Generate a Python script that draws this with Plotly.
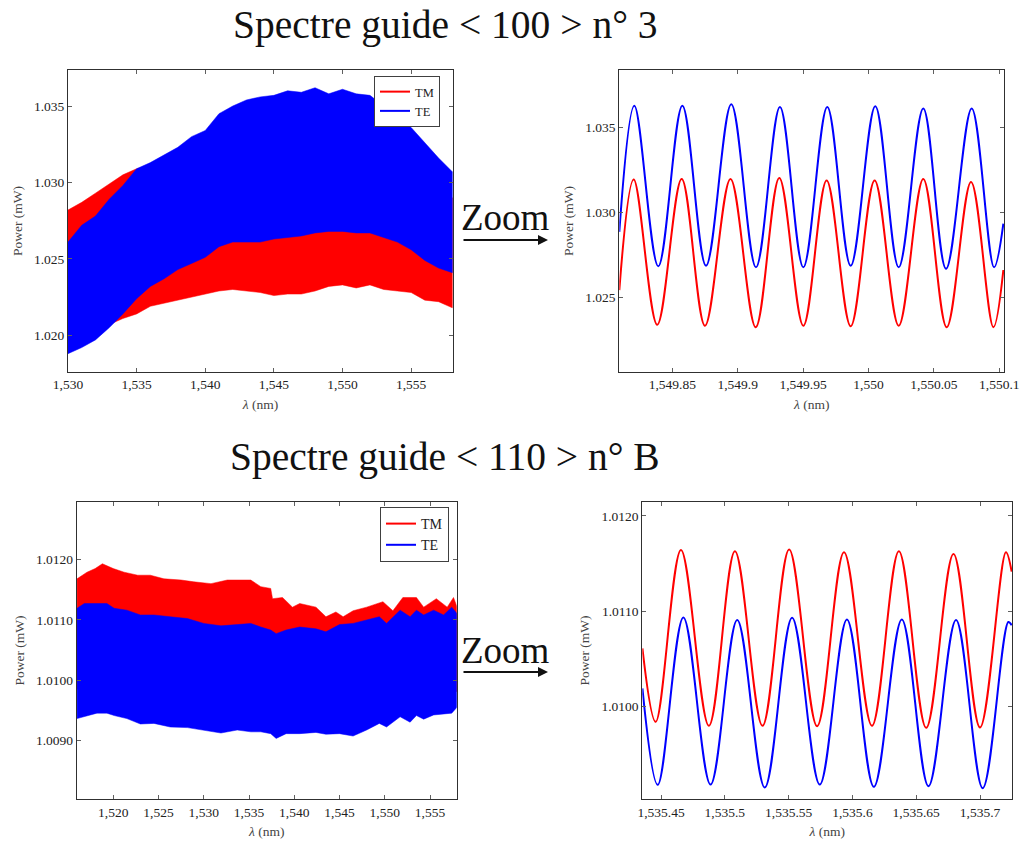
import numpy as np
import plotly.graph_objects as go

# ---------------- Panel 1 : guide <100> n°3, full spectrum (envelopes of dense fringes)
wl1 = [1530, 1531, 1532, 1533, 1534, 1535, 1536, 1537, 1538, 1539, 1540, 1541, 1542, 1543, 1544,
       1545, 1546, 1547, 1548, 1549, 1550, 1551, 1552, 1553, 1554, 1555, 1556, 1557, 1558]
te1_up = [1.0261, 1.0272, 1.0278, 1.0289, 1.0298, 1.0309, 1.0313, 1.0318, 1.0323, 1.0330, 1.0334,
          1.0345, 1.0350, 1.0354, 1.0356, 1.0357, 1.0360, 1.0359, 1.0362, 1.0358, 1.0361, 1.0358,
          1.0357, 1.0350, 1.0344, 1.0336, 1.0326, 1.0316, 1.0307]
te1_lo = [1.0188, 1.0192, 1.0197, 1.0205, 1.0214, 1.0224, 1.0232, 1.0237, 1.0243, 1.0247, 1.0251,
          1.0258, 1.0261, 1.0261, 1.0261, 1.0263, 1.0264, 1.0265, 1.0267, 1.0268, 1.0268, 1.0267,
          1.0267, 1.0264, 1.0261, 1.0256, 1.0249, 1.0244, 1.0241]
tm1_up = [1.0282, 1.0287, 1.0293, 1.0299, 1.0305, 1.0309, 1.0311, 1.0312, 1.0313, 1.0314, 1.0315,
          1.0316, 1.0317, 1.0318, 1.0318, 1.0319, 1.0319, 1.0320, 1.0320, 1.0320, 1.0320, 1.0319,
          1.0318, 1.0316, 1.0313, 1.0308, 1.0302, 1.0296, 1.0290]
tm1_lo = [1.0200, 1.0203, 1.0205, 1.0207, 1.0211, 1.0214, 1.0219, 1.0221, 1.0223, 1.0225, 1.0227,
          1.0229, 1.0230, 1.0229, 1.0228, 1.0226, 1.0227, 1.0227, 1.0229, 1.0232, 1.0233, 1.0231,
          1.0233, 1.0230, 1.0229, 1.0228, 1.0223, 1.0222, 1.0218]

# ---------------- Panel 2 : zoom of guide <100> n°3 (extrema of the fringes)
wl2_te = [1549.8095, 1549.8210, 1549.8393, 1549.8577, 1549.8758, 1549.8951, 1549.9140, 1549.9323,
          1549.9502, 1549.9685, 1549.9864, 1550.0052, 1550.0231, 1550.0419, 1550.0593, 1550.0789,
          1550.0960, 1550.1031]
te2 = [1.02886, 1.03630, 1.02683, 1.03630, 1.02686, 1.03638, 1.02677, 1.03622, 1.02677, 1.03622,
       1.02686, 1.03627, 1.02677, 1.03613, 1.02668, 1.03613, 1.02677, 1.02935]
wl2_tm = [1549.8095, 1549.8205, 1549.8385, 1549.8572, 1549.8750, 1549.8945, 1549.9138, 1549.9318,
          1549.9502, 1549.9680, 1549.9864, 1550.0047, 1550.0231, 1550.0419, 1550.0598, 1550.0784,
          1550.0955, 1550.1031]
tm2 = [1.02543, 1.03195, 1.02339, 1.03198, 1.02333, 1.03198, 1.02324, 1.03204, 1.02333, 1.03189,
       1.02330, 1.03189, 1.02333, 1.03198, 1.02324, 1.03180, 1.02324, 1.02661]

# ---------------- Panel 3 : guide <110> n°B, full spectrum
wl3_tm = [1516.0, 1517.1, 1518.0, 1518.8, 1520.0, 1521.2, 1522.7, 1524.1, 1525.6, 1527.5, 1528.9,
          1530.8, 1532.6, 1533.7, 1535.2, 1536.3, 1537.4, 1537.6, 1538.7, 1539.8, 1540.6, 1542.4,
          1543.5, 1544.6, 1545.4, 1546.5, 1548.0, 1549.8, 1550.9, 1552.0, 1553.5, 1554.3, 1555.7,
          1556.9, 1557.6, 1558.0]
tm3_up = [1.01168, 1.01179, 1.01185, 1.01193, 1.01185, 1.01179, 1.01174, 1.01174, 1.01168, 1.01166,
          1.01163, 1.01160, 1.01166, 1.01166, 1.01166, 1.01155, 1.01152, 1.01135, 1.01137, 1.01121,
          1.01127, 1.01121, 1.01105, 1.01113, 1.01105, 1.01115, 1.01121, 1.01130, 1.01115, 1.01137,
          1.01137, 1.01121, 1.01135, 1.01121, 1.01137, 1.01121]
tm3_lo = [1.00985, 1.00985, 1.00984, 1.00984, 1.00983, 1.00983, 1.00982, 1.00982, 1.00981, 1.00981,
          1.00980, 1.00980, 1.00980, 1.00980, 1.00979, 1.00979, 1.00978, 1.00978, 1.00978, 1.00978,
          1.00978, 1.00978, 1.00978, 1.00978, 1.00978, 1.00978, 1.00979, 1.00979, 1.00979, 1.00980,
          1.00980, 1.00980, 1.00981, 1.00981, 1.00981, 1.00981]
wl3_te = [1516.0, 1516.8, 1518.2, 1519.3, 1520.1, 1521.5, 1523.0, 1524.5, 1526.3, 1528.2, 1530.0,
          1531.9, 1533.7, 1535.2, 1536.3, 1537.4, 1538.0, 1539.1, 1540.6, 1542.4, 1543.5, 1545.0,
          1546.5, 1548.0, 1549.4, 1550.2, 1551.7, 1552.8, 1553.5, 1554.3, 1555.4, 1556.5, 1557.4,
          1558.0]
te3_up = [1.01119, 1.01127, 1.01127, 1.01127, 1.01119, 1.01116, 1.01108, 1.01108, 1.01105, 1.01102,
          1.01094, 1.01090, 1.01092, 1.01094, 1.01088, 1.01083, 1.01077, 1.01083, 1.01088, 1.01085,
          1.01080, 1.01092, 1.01094, 1.01100, 1.01105, 1.01094, 1.01116, 1.01105, 1.01116, 1.01108,
          1.01116, 1.01108, 1.01121, 1.01110]
te3_lo = [1.00936, 1.00940, 1.00945, 1.00945, 1.00941, 1.00936, 1.00927, 1.00928, 1.00922, 1.00921,
          1.00917, 1.00912, 1.00917, 1.00914, 1.00914, 1.00911, 1.00903, 1.00911, 1.00911, 1.00913,
          1.00910, 1.00911, 1.00907, 1.00917, 1.00928, 1.00922, 1.00939, 1.00930, 1.00941, 1.00935,
          1.00942, 1.00944, 1.00945, 1.00955]

# ---------------- Panel 4 : zoom of guide <110> n°B
wl4_tm = [1535.4354, 1535.4458, 1535.4656, 1535.4875, 1535.5079, 1535.5295, 1535.5504, 1535.5723,
          1535.5934, 1535.6153, 1535.6364, 1535.6578, 1535.6792, 1535.7000, 1535.7203, 1535.7248]
tm4 = [1.010607, 1.009835, 1.011642, 1.009793, 1.011628, 1.009793, 1.011646, 1.009789,
       1.011618, 1.009793, 1.011628, 1.009772, 1.011600, 1.009775, 1.011618, 1.011414]
wl4_te = [1535.4354, 1535.4474, 1535.4675, 1535.4888, 1535.5097, 1535.5313, 1535.5527, 1535.5744,
          1535.5957, 1535.6168, 1535.6387, 1535.6596, 1535.6812, 1535.7021, 1535.7222, 1535.7248]
te4 = [1.010186, 1.009172, 1.010933, 1.009175, 1.010905, 1.009144, 1.010930, 1.009175,
       1.010912, 1.009151, 1.010912, 1.009158, 1.010905, 1.009137, 1.010884, 1.010850]

# ---------------- tick labels
x1_ticks = [1530, 1535, 1540, 1545, 1550, 1555]
x1_text = ["1,530", "1,535", "1,540", "1,545", "1,550", "1,555"]
y1_ticks = [1.020, 1.025, 1.030, 1.035]
y1_text = ["1.020", "1.025", "1.030", "1.035"]
x2_ticks = [1549.85, 1549.90, 1549.95, 1550.00, 1550.05, 1550.10]
x2_text = ["1,549.85", "1,549.9", "1,549.95", "1,550", "1,550.05", "1,550.1"]
y2_ticks = [1.025, 1.030, 1.035]
y2_text = ["1.025", "1.030", "1.035"]
x3_ticks = [1520, 1525, 1530, 1535, 1540, 1545, 1550, 1555]
x3_text = ["1,520", "1,525", "1,530", "1,535", "1,540", "1,545", "1,550", "1,555"]
y3_ticks = [1.0090, 1.0100, 1.0110, 1.0120]
y3_text = ["1.0090", "1.0100", "1.0110", "1.0120"]
x4_ticks = [1535.45, 1535.50, 1535.55, 1535.60, 1535.65, 1535.70]
x4_text = ["1,535.45", "1,535.5", "1,535.55", "1,535.6", "1,535.65", "1,535.7"]
y4_ticks = [1.0100, 1.0110, 1.0120]
y4_text = ["1.0100", "1.0110", "1.0120"]

titles = ["Spectre guide &lt; 100 &gt; n° 3", "Spectre guide &lt; 110 &gt; n° B"]

RED = "#ff0000"
BLUE = "#0000ff"
SERIF = "Liberation Serif, DejaVu Serif, serif"
W, H = 1022, 842


def band(x, up, lo, color, xa, ya):
    x = np.asarray(x, float)
    xs = np.concatenate([x, x[::-1]])
    ys = np.concatenate([np.asarray(up, float), np.asarray(lo, float)[::-1]])
    return go.Scatter(x=xs, y=ys, mode="lines", fill="toself", fillcolor=color,
                      line=dict(color=color, width=0.5), xaxis=xa, yaxis=ya,
                      showlegend=False, hoverinfo="skip")


fig = go.Figure()
# panel 1
fig.add_trace(band(wl1, tm1_up, tm1_lo, RED, "x", "y"))
fig.add_trace(band(wl1, te1_up, te1_lo, BLUE, "x", "y"))
fig.add_trace(go.Scatter(x=[None], y=[None], mode="lines", name="TM", line=dict(color=RED, width=2),
                         xaxis="x", yaxis="y", legend="legend"))
fig.add_trace(go.Scatter(x=[None], y=[None], mode="lines", name="TE", line=dict(color=BLUE, width=2),
                         xaxis="x", yaxis="y", legend="legend"))
# panel 2
fig.add_trace(go.Scatter(x=wl2_tm, y=tm2, mode="lines", line=dict(color=RED, width=2, shape="spline", smoothing=1),
                         xaxis="x2", yaxis="y2", showlegend=False))
fig.add_trace(go.Scatter(x=wl2_te, y=te2, mode="lines", line=dict(color=BLUE, width=2, shape="spline", smoothing=1),
                         xaxis="x2", yaxis="y2", showlegend=False))
# panel 3
fig.add_trace(band(wl3_tm, tm3_up, tm3_lo, RED, "x3", "y3"))
fig.add_trace(band(wl3_te, te3_up, te3_lo, BLUE, "x3", "y3"))
fig.add_trace(go.Scatter(x=[None], y=[None], mode="lines", name="TM", line=dict(color=RED, width=2),
                         xaxis="x3", yaxis="y3", legend="legend2"))
fig.add_trace(go.Scatter(x=[None], y=[None], mode="lines", name="TE", line=dict(color=BLUE, width=2),
                         xaxis="x3", yaxis="y3", legend="legend2"))
# panel 4
fig.add_trace(go.Scatter(x=wl4_tm, y=tm4, mode="lines", line=dict(color=RED, width=2, shape="spline", smoothing=1),
                         xaxis="x4", yaxis="y4", showlegend=False))
fig.add_trace(go.Scatter(x=wl4_te, y=te4, mode="lines", line=dict(color=BLUE, width=2, shape="spline", smoothing=1),
                         xaxis="x4", yaxis="y4", showlegend=False))


def px_dom_x(a, b):
    return [a / W, b / W]


def px_dom_y(top, bottom):
    return [1 - bottom / H, 1 - top / H]


axis_common = dict(showline=True, linecolor="#303030", linewidth=1, mirror="allticks",
                   ticks="inside", ticklen=4, tickcolor="#606060", tickwidth=1,
                   showgrid=False, zeroline=False, automargin=False,
                   tickfont=dict(family=SERIF, size=13.5, color="#222222"))

xt = dict(text="<i>λ</i> (nm)", font=dict(family=SERIF, size=13.5, color="#444444"), standoff=8)
yt = dict(text="Power (mW)", font=dict(family=SERIF, size=13.5, color="#444444"), standoff=8)

layout = dict(
    width=W, height=H, margin=dict(l=0, r=0, t=0, b=0, autoexpand=False),
    paper_bgcolor="white", plot_bgcolor="white",
    xaxis=dict(domain=px_dom_x(68, 453), anchor="y", range=[1530, 1558.05],
               tickvals=x1_ticks, ticktext=x1_text, title=xt, **axis_common),
    yaxis=dict(domain=px_dom_y(70, 372), anchor="x", range=[1.01760, 1.03736],
               tickvals=y1_ticks, ticktext=y1_text, title=yt, **axis_common),
    xaxis2=dict(domain=px_dom_x(619.3, 1004), anchor="y2", range=[1549.8095, 1550.1036],
                tickvals=x2_ticks, ticktext=x2_text, title=xt, **axis_common),
    yaxis2=dict(domain=px_dom_y(70, 372), anchor="x2", range=[1.0206, 1.0384],
                tickvals=y2_ticks, ticktext=y2_text, title=yt, **axis_common),
    xaxis3=dict(domain=px_dom_x(76.7, 456.7), anchor="y3", range=[1515.96, 1557.95],
                tickvals=x3_ticks, ticktext=x3_text, title=xt, **axis_common),
    yaxis3=dict(domain=px_dom_y(501.7, 799.3), anchor="x3", range=[1.00802, 1.01296],
                tickvals=y3_ticks, ticktext=y3_text, title=yt, **axis_common),
    xaxis4=dict(domain=px_dom_x(642.3, 1012.3), anchor="y4", range=[1535.4353, 1535.7253],
                tickvals=x4_ticks, ticktext=x4_text, title=xt, **axis_common),
    yaxis4=dict(domain=px_dom_y(501.7, 799.3), anchor="x4", range=[1.00902, 1.01215],
                tickvals=y4_ticks, ticktext=y4_text, title=yt, **axis_common),
    legend=dict(x=440 / W, y=1 - 76 / H, xanchor="right", yanchor="top",
                bgcolor="white", bordercolor="#404040", borderwidth=1,
                font=dict(family=SERIF, size=12.5, color="#222222"),
                itemwidth=30, tracegroupgap=0),
    legend2=dict(x=449 / W, y=1 - 507 / H, xanchor="right", yanchor="top",
                 bgcolor="white", bordercolor="#404040", borderwidth=1,
                 font=dict(family=SERIF, size=14, color="#222222"),
                 itemwidth=30, tracegroupgap=0),
    showlegend=True,
)
fig.update_layout(**layout)

annotations = [
    dict(text=titles[0], x=445 / W, y=1 - 25 / H, xref="paper", yref="paper",
         showarrow=False, xanchor="center", yanchor="middle",
         font=dict(family=SERIF, size=39.5, color="#111111")),
    dict(text=titles[1], x=445 / W, y=1 - 457 / H, xref="paper", yref="paper",
         showarrow=False, xanchor="center", yanchor="middle",
         font=dict(family=SERIF, size=39.5, color="#111111")),
    dict(text="Zoom", x=505 / W, y=1 - 218 / H, xref="paper", yref="paper",
         showarrow=False, xanchor="center", yanchor="middle",
         font=dict(family=SERIF, size=37, color="#111111")),
    dict(text="Zoom", x=505 / W, y=1 - 650 / H, xref="paper", yref="paper",
         showarrow=False, xanchor="center", yanchor="middle",
         font=dict(family=SERIF, size=37, color="#111111")),
    dict(text="", x=548 / W, y=1 - 240 / H, xref="paper", yref="paper",
         showarrow=True, ax=-86, ay=0, arrowhead=2, arrowsize=1, arrowwidth=2, arrowcolor="#111111"),
    dict(text="", x=548 / W, y=1 - 672 / H, xref="paper", yref="paper",
         showarrow=True, ax=-86, ay=0, arrowhead=2, arrowsize=1, arrowwidth=2, arrowcolor="#111111"),
]
fig.update_layout(annotations=annotations)

fig.write_html("out.html", config={"displayModeBar": False},
               post_script="document.body.style.margin='0';document.body.style.overflow='hidden';")
